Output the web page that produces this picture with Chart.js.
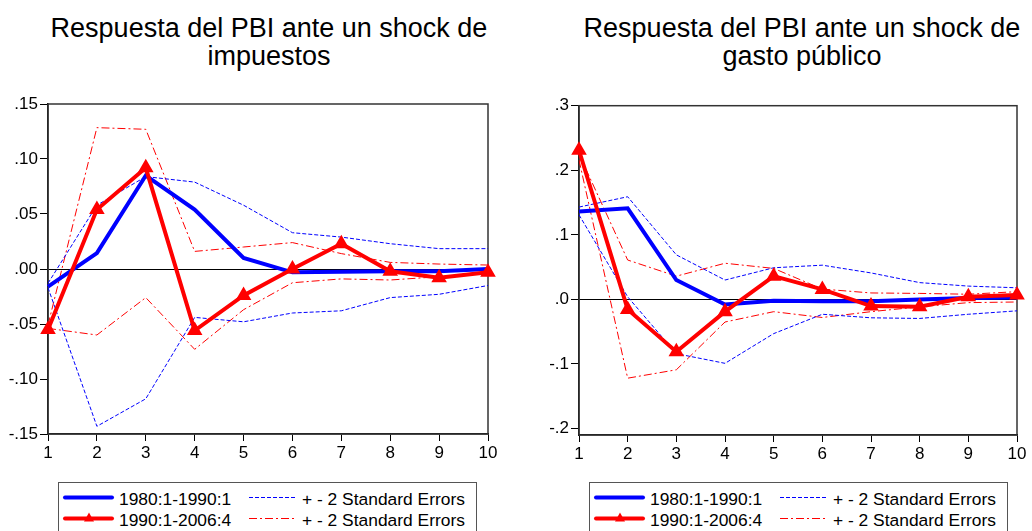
<!DOCTYPE html>
<html>
<head>
<meta charset="utf-8">
<script src="https://cdn.jsdelivr.net/npm/chart.js@4.4.1/dist/chart.umd.min.js"></script>
<style>
    body { margin: 0; width: 1032px; height: 531px; overflow: hidden; background: #fff; position: relative;
           font-family: "Liberation Sans", Arial, sans-serif; }
    .title { position: absolute; top: 14px; width: 500px; font-size: 27px; line-height: 28px;
             text-align: center; color: #000; white-space: nowrap; }
    .panel { position: absolute; top: 90px; }
    .legend { position: absolute; top: 482px; }
</style>
</head>
<body>

<div class="title" style="left:19px">Respuesta del PBI ante un shock de<br>impuestos</div>
<div class="title" style="left:552px">Respuesta del PBI ante un shock de<br>gasto público</div>

<div class="panel" style="left:0px"><canvas id="taxChart" width="516" height="385"></canvas></div>
<div class="panel" style="left:531px"><canvas id="govChart" width="501" height="385"></canvas></div>

<svg class="legend" id="taxLegend" style="left:58px" width="419" height="50"></svg>
<svg class="legend" id="govLegend" style="left:589px" width="419" height="50"></svg>

<script>
// ============================================
// DATA (read off the EViews impulse responses)
// ============================================

const horizon = ['1', '2', '3', '4', '5', '6', '7', '8', '9', '10'];

// shock de impuestos
const tax8090   = [-0.016, 0.0145, 0.085, 0.054, 0.010, -0.003, -0.0025, -0.002, -0.002, 0.000];
const tax8090Up = [-0.013, 0.058, 0.084, 0.079, 0.058, 0.033, 0.029, 0.023, 0.0185, 0.0185];
const tax8090Lo = [-0.017, -0.143, -0.118, -0.044, -0.048, -0.040, -0.038, -0.026, -0.023, -0.015];
const tax9006   = [-0.055, 0.054, 0.092, -0.056, -0.024, 0.000, 0.023, -0.002, -0.008, -0.003];
const tax9006Up = [-0.051, 0.1285, 0.127, 0.016, 0.020, 0.024, 0.014, 0.006, 0.0045, 0.0036];
const tax9006Lo = [-0.054, -0.060, -0.026, -0.073, -0.037, -0.0125, -0.009, -0.010, -0.007, -0.004];
const taxTicks  = [-0.15, -0.10, -0.05, 0, 0.05, 0.10, 0.15];

// shock de gasto público
const gov8090   = [0.136, 0.141, 0.030, -0.008, -0.002, -0.003, -0.003, 0.000, 0.002, 0.003];
const gov8090Up = [0.143, 0.159, 0.069, 0.030, 0.049, 0.053, 0.041, 0.026, 0.0206, 0.018];
const gov8090Lo = [0.131, 0.004, -0.084, -0.099, -0.053, -0.023, -0.0285, -0.0295, -0.023, -0.0177];
const gov9006   = [0.231, -0.0155, -0.081, -0.019, 0.036, 0.0155, -0.0104, -0.0114, 0.004, 0.0067];
const gov9006Up = [0.225, 0.061, 0.036, 0.056, 0.048, 0.016, 0.010, 0.0093, 0.008, 0.012];
const gov9006Lo = [0.216, -0.122, -0.109, -0.035, -0.019, -0.028, -0.019, -0.0115, -0.005, -0.004];
const govTicks  = [-0.2, -0.1, 0, 0.1, 0.2, 0.3];

const legendLabels = ['1980:1-1990:1', '1990:1-2006:4', '+ - 2 Standard Errors', '+ - 2 Standard Errors'];

const BLUE = '#0000ff';
const RED = '#ff0000';
const BLUE_DASH = [4, 2];
const RED_DASH = [8, 3, 2, 3];

Chart.defaults.font.family = '"Liberation Sans", Arial, sans-serif';
Chart.defaults.font.size = 17;
Chart.defaults.color = '#000';

// box round the plot (top and right sides)
const frameBox = {
    id: 'frameBox',
    beforeDatasetsDraw(chart) {
        const { ctx, chartArea: a } = chart;
        ctx.save();
        ctx.strokeStyle = '#333';
        ctx.lineWidth = 1.5;
        ctx.strokeRect(a.left, a.top, a.right - a.left, a.bottom - a.top);
        ctx.restore();
    }
};

function makeChart(id, series, yMin, yMax, ticks, decimals, pad) {
    const solid = (data, color, withMarker) => ({
        data, borderColor: color, backgroundColor: color, borderWidth: 4, tension: 0,
        pointStyle: 'triangle', pointRadius: withMarker ? 5 : 0, pointHoverRadius: 0,
        clip: false
    });
    const band = (data, color, dash) => ({
        data, borderColor: color, borderWidth: 1, borderDash: dash, tension: 0,
        pointRadius: 0, pointHoverRadius: 0, fill: false
    });

    return new Chart(document.getElementById(id), {
        type: 'line',
        data: {
            labels: horizon,
            datasets: [
                solid(series.b, RED, true),
                solid(series.a, BLUE, false),
                band(series.aUp, BLUE, BLUE_DASH),
                band(series.aLo, BLUE, BLUE_DASH),
                band(series.bUp, RED, RED_DASH),
                band(series.bLo, RED, RED_DASH)
            ]
        },
        options: {
            responsive: false,
            devicePixelRatio: 1,
            animation: false,
            layout: { padding: { top: pad.top, right: pad.right, left: 0, bottom: 0 } },
            plugins: { legend: { display: false }, tooltip: { enabled: false } },
            scales: {
                x: {
                    offset: false,
                    grid: { display: true, drawOnChartArea: false, offset: false, tickLength: 7, tickColor: '#000' },
                    border: { color: '#000', width: 1.5 },
                    ticks: { padding: 2, maxRotation: 0, autoSkip: false },
                    afterFit: s => { s.height = pad.xh; }
                },
                y: {
                    min: yMin,
                    max: yMax,
                    grid: {
                        drawOnChartArea: true, tickLength: 8, tickColor: '#000',
                        color: c => (c.tick && c.tick.value === 0 ? '#000' : 'rgba(0,0,0,0)'),
                        lineWidth: 1
                    },
                    border: { color: '#000', width: 1.5 },
                    ticks: {
                        padding: 2,
                        callback: v => (v < 0 ? '-' : '') + Math.abs(v).toFixed(decimals).replace(/^0/, '')
                    },
                    afterBuildTicks: s => { s.ticks = ticks.map(v => ({ value: v })); },
                    afterFit: s => { s.width = 48; }
                }
            }
        },
        plugins: [frameBox]
    });
}

makeChart('taxChart',
    { a: tax8090, aUp: tax8090Up, aLo: tax8090Lo, b: tax9006, bUp: tax9006Up, bLo: tax9006Lo },
    -0.15, 0.15, taxTicks, 2, { top: 14, right: 28, xh: 41 });

makeChart('govChart',
    { a: gov8090, aUp: gov8090Up, aLo: gov8090Lo, b: gov9006, bUp: gov9006Up, bLo: gov9006Lo },
    -0.21, 0.3, govTicks, 1, { top: 15.7, right: 15, xh: 40 });

// legend boxes below each panel
function drawLegend(id) {
    const svg = document.getElementById(id);
    const rows = [15.5, 36.5];
    const base = [23, 44];
    const font = 'font-family="Liberation Sans, Arial, sans-serif" font-size="17.4"';
    let html = '<rect x="0.5" y="0.5" width="418" height="60" fill="#fff" stroke="#555" stroke-width="1"/>';
    html += `<line x1="7" y1="${rows[0]}" x2="54" y2="${rows[0]}" stroke="${BLUE}" stroke-width="4" stroke-linecap="round"/>`;
    html += `<line x1="7" y1="${rows[1]}" x2="54" y2="${rows[1]}" stroke="${RED}" stroke-width="4" stroke-linecap="round"/>`;
    html += `<polygon points="31,${rows[1] - 6} 26,${rows[1] + 3} 36,${rows[1] + 3}" fill="${RED}"/>`;
    html += `<line x1="191" y1="${rows[0]}" x2="237" y2="${rows[0]}" stroke="${BLUE}" stroke-width="1" stroke-dasharray="${BLUE_DASH.join(' ')}"/>`;
    html += `<line x1="191" y1="${rows[1]}" x2="237" y2="${rows[1]}" stroke="${RED}" stroke-width="1" stroke-dasharray="${RED_DASH.join(' ')}"/>`;
    html += `<text x="61" y="${base[0]}" ${font}>${legendLabels[0]}</text>`;
    html += `<text x="61" y="${base[1]}" ${font}>${legendLabels[1]}</text>`;
    html += `<text x="244" y="${base[0]}" ${font}>${legendLabels[2]}</text>`;
    html += `<text x="244" y="${base[1]}" ${font}>${legendLabels[3]}</text>`;
    svg.innerHTML = html;
}

drawLegend('taxLegend');
drawLegend('govLegend');
</script>
</body>
</html>
